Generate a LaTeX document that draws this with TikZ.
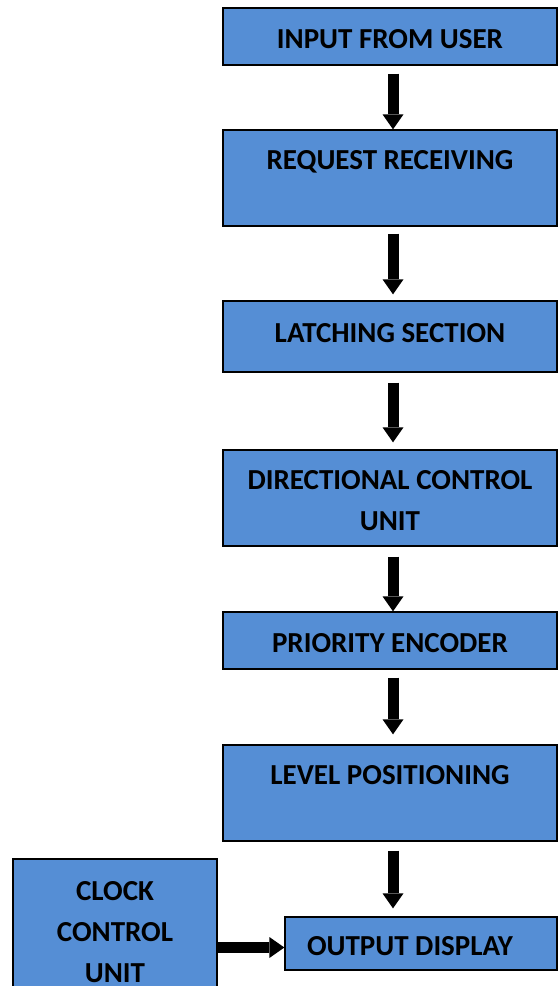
\documentclass[tikz,border=0pt]{standalone}
\usepackage{fontspec}
\setmainfont{Carlito}
\usetikzlibrary{arrows.meta}

\definecolor{boxblue}{RGB}{85,142,213}
\newcommand{\rowstrut}{\rule[-8.7pt]{0pt}{41pt}}

\tikzset{
    block/.style={draw=black, line width=1.3pt, fill=boxblue, inner sep=0pt,
        align=center, minimum width=334pt,
        font=\fontsize{29}{41}\selectfont\bfseries},
    flow/.style={line width=11pt,
        -{Triangle[width=21pt,length=15pt,line width=0pt]}},
}

\begin{document}
\begin{tikzpicture}[x=1pt,y=-1pt]
        \clip (0,0) rectangle (558,986);
        % main column
        \node[block, minimum height=57pt] (in) at (390,36.5) {\rowstrut INPUT FROM USER};
        \node[block, minimum height=96pt] (req) at (390,178) {\rowstrut REQUEST RECEIVING\\ \rowstrut};
        \node[block, minimum height=71pt] (lat) at (390,336.5) {\rule[-14.7pt]{0pt}{41pt}LATCHING SECTION};
        \node[block, minimum height=96pt] (dcu) at (390,498) {\rowstrut DIRECTIONAL CONTROL\\ \rowstrut UNIT};
        \node[block, minimum height=57pt] (pe) at (390,640.5) {\rowstrut PRIORITY ENCODER};
        \node[block, minimum height=96pt] (lev) at (390,793) {\rowstrut LEVEL POSITIONING\\ \rowstrut};
        \node[block, minimum width=272pt, minimum height=53pt] (out) at (421,943.5) {\rowstrut OUTPUT DISPLAY\hspace{22pt}};
        \node[block, minimum width=204pt, minimum height=142pt] (clock) at (115,930) {\rowstrut CLOCK\\ \rowstrut CONTROL\\ \rowstrut UNIT};

        % arrows
        \coordinate (axis) at (393,0);
        \coordinate (link) at ([yshift=-4pt]out.west);
        \draw[flow, shorten <=8pt] (in.south -| axis) -- (req.north -| axis);
        \draw[flow, shorten <=7pt, shorten >=6pt] (req.south -| axis) -- (lat.north -| axis);
        \draw[flow, shorten <=10pt, shorten >=7pt] (lat.south -| axis) -- (dcu.north -| axis);
        \draw[flow, shorten <=10pt] (dcu.south -| axis) -- (pe.north -| axis);
        \draw[flow, shorten <=8pt, shorten >=10pt] (pe.south -| axis) -- (lev.north -| axis);
        \draw[flow, shorten <=9pt, shorten >=8pt] (lev.south -| axis) -- (out.north -| axis);
        \draw[flow] (clock.east |- link) -- (link);
\end{tikzpicture}
\end{document}
